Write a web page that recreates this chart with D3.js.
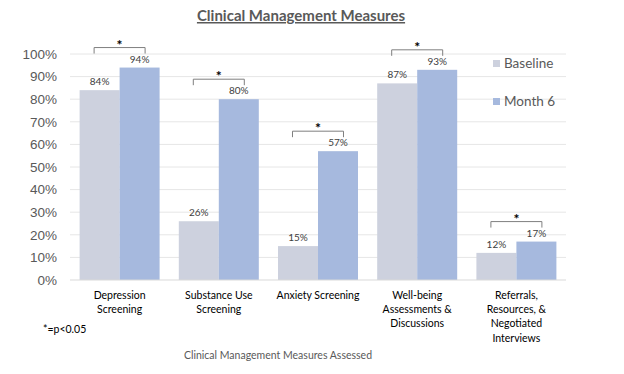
<!DOCTYPE html>
<html>
<head>
<meta charset="utf-8">
<script src="https://cdn.jsdelivr.net/npm/d3@7"></script>
<style>
  body { margin: 0; background: #fff; }
  svg { font-family: Lato, 'Open Sans', sans-serif; }
  .tick text { fill: #595959; font-size: 13.5px; }
  .value { fill: #404040; font-size: 10px; text-anchor: middle; }
  .cat { fill: #000; font-size: 10.5px; text-anchor: middle; }
</style>
</head>
<body>
<div id="chart"></div>
<script>
var categories = ['Depression Screening', 'Substance Use Screening', 'Anxiety Screening',
    'Well-being Assessments & Discussions', 'Referrals, Resources, & Negotiated Interviews'];
var catLines = [
    ['Depression', 'Screening'],
    ['Substance Use', 'Screening'],
    ['Anxiety Screening'],
    ['Well-being', 'Assessments &', 'Discussions'],
    ['Referrals,', 'Resources, &', 'Negotiated', 'Interviews']
];
var series = ['Baseline', 'Month 6'];
var baseline = [0.84, 0.26, 0.15, 0.87, 0.12];
var month6 = [0.94, 0.80, 0.57, 0.93, 0.17];
var significant = [true, true, true, true, true];
var yTicks = [0, 0.1, 0.2, 0.3, 0.4, 0.5, 0.6, 0.7, 0.8, 0.9, 1.0];

var colors = { 'Baseline': '#cdd1de', 'Month 6': '#a6b9de' };

var width = 624, height = 374;
var plot = { left: 70, right: 566, top: 54, bottom: 280 };

var svg = d3.select('#chart').append('svg')
    .attr('width', width)
    .attr('height', height);

var x0 = d3.scaleBand()
    .domain(categories)
    .range([plot.left, plot.right])
    .padding(0);

var x1 = d3.scaleBand()
    .domain(series)
    .range([0, x0.bandwidth()])
    .paddingInner(0)
    .paddingOuter(0.24);

var y = d3.scaleLinear()
    .domain([0, 1])
    .range([plot.bottom, plot.top]);

// gridlines
svg.append('g')
    .selectAll('line')
    .data(yTicks.slice(1))
    .enter()
    .append('line')
    .attr('x1', plot.left)
    .attr('x2', plot.right)
    .attr('y1', d => y(d))
    .attr('y2', d => y(d))
    .attr('stroke', '#e6e6e6')
    .attr('stroke-width', 1);

// y axis (labels only)
var yAxis = d3.axisLeft(y)
    .tickValues(yTicks)
    .tickFormat(d3.format('.0%'))
    .tickSize(0)
    .tickPadding(13);

svg.append('g')
    .attr('transform', 'translate(' + plot.left + ',0)')
    .call(yAxis)
    .call(g => g.select('.domain').remove());

var rows = categories.map((c, i) => ({ cat: c, values: [baseline[i], month6[i]], sig: significant[i], lines: catLines[i] }));

// bars
var groups = svg.selectAll('.group')
    .data(rows)
    .enter()
    .append('g')
    .attr('class', 'group')
    .attr('transform', d => 'translate(' + x0(d.cat) + ',0)');

groups.selectAll('rect')
    .data(d => d.values.map((v, j) => ({ key: series[j], value: v })))
    .enter()
    .append('rect')
    .attr('x', d => x1(d.key))
    .attr('y', d => y(d.value))
    .attr('width', x1.bandwidth())
    .attr('height', d => y(0) - y(d.value))
    .attr('fill', d => colors[d.key]);

groups.selectAll('.value')
    .data(d => d.values.map((v, j) => ({ key: series[j], value: v })))
    .enter()
    .append('text')
    .attr('class', 'value')
    .attr('x', d => x1(d.key) + x1.bandwidth() / 2)
    .attr('y', d => y(d.value) - 5)
    .text(d => d3.format('.0%')(d.value));

// significance brackets
var sigGroups = groups.filter(d => d.sig);
sigGroups.append('path')
    .attr('fill', 'none')
    .attr('stroke', '#7f7f7f')
    .attr('stroke-width', 1)
    .attr('d', d => {
        var c = x0.bandwidth() / 2;
        var b = y(d3.max(d.values)) - 14;
        var t = b - 6;
        return 'M' + (c - 25.5) + ',' + b + 'V' + t + 'H' + (c + 25.5) + 'V' + b;
    });

sigGroups.append('text')
    .attr('x', x0.bandwidth() / 2)
    .attr('y', d => y(d3.max(d.values)) - 20 + 2)
    .attr('text-anchor', 'middle')
    .attr('font-size', '14px')
    .attr('font-weight', 'bold')
    .attr('fill', '#000')
    .text('*');

// x baseline
svg.append('line')
    .attr('x1', plot.left)
    .attr('x2', plot.right)
    .attr('y1', y(0))
    .attr('y2', y(0))
    .attr('stroke', '#d9d9d9');

// category labels
groups.append('text')
    .attr('class', 'cat')
    .selectAll('tspan')
    .data(d => d.lines)
    .enter()
    .append('tspan')
    .attr('x', x0.bandwidth() / 2)
    .attr('y', (d, i) => 298.5 + i * 14.4)
    .text(d => d);

// title
svg.append('text')
    .attr('x', 301)
    .attr('y', 21)
    .attr('text-anchor', 'middle')
    .attr('font-size', '15px')
    .attr('font-weight', 'bold')
    .attr('fill', '#595959')
    .attr('text-decoration', 'underline')
    .text('Clinical Management Measures');

// legend
var legend = svg.append('g')
    .selectAll('g')
    .data(series)
    .enter()
    .append('g')
    .attr('transform', (d, i) => 'translate(493,' + (60 + i * 38) + ')');

legend.append('rect')
    .attr('width', 7)
    .attr('height', 7)
    .attr('fill', d => colors[d]);

legend.append('text')
    .attr('x', 11)
    .attr('y', 8)
    .attr('font-size', '13.5px')
    .attr('fill', '#595959')
    .text(d => d);

// footnote
svg.append('text')
    .attr('x', 43)
    .attr('y', 333)
    .attr('font-size', '10.5px')
    .attr('fill', '#000')
    .text('*=p<0.05');

// axis title
svg.append('text')
    .attr('x', 278)
    .attr('y', 359)
    .attr('text-anchor', 'middle')
    .attr('font-size', '10.5px')
    .attr('fill', '#595959')
    .text('Clinical Management Measures Assessed');
</script>
</body>
</html>
